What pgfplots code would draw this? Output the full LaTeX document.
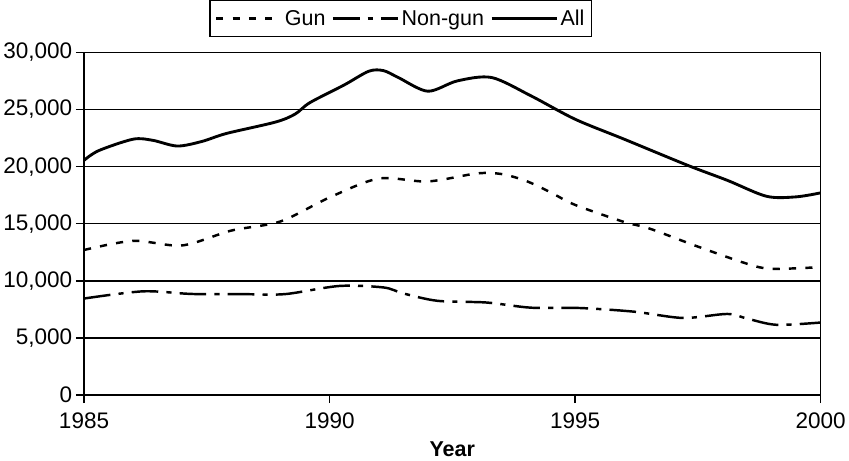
\documentclass[border=0pt]{standalone}
\usepackage{pgfplots}
\pgfplotsset{compat=1.18}
\usepackage{fontspec}
\setmainfont{Liberation Sans}
\begin{document}
\begin{tikzpicture}
\begin{axis}[
  scale only axis, width=720pt, height=335pt,
  xmin=1985, xmax=2000, ymin=0, ymax=30000,
  xtick={1985,1990,1995,2000}, ytick={0,5000,10000,15000,20000,25000,30000},
  scaled y ticks=false,
  /pgf/number format/assume math mode=true,
  xticklabel style={/pgf/number format/1000 sep={}, yshift=-6pt},
  yticklabel style={/pgf/number format/1000 sep={,}},
  ymajorgrids, grid style={black, line width=1.4pt},
  axis line style={line width=1.6pt},
  tick style={black, line width=1.4pt},
  tick align=outside, major tick length=8pt, tick pos=left,
  ticklabel style={font=\fontsize{22}{26}\selectfont},
  xlabel={Year}, xlabel style={font=\fontsize{21}{25}\selectfont\bfseries, yshift=-6pt},
  legend columns=3,
  legend style={at={(0.43,1.045)}, anchor=south, draw=black, line width=1.4pt,
    font=\fontsize{21}{25}\selectfont, inner xsep=5pt, inner ysep=7pt,
    /tikz/every even column/.append style={column sep=4pt}},
  legend image code/.code={\draw[#1] (0pt,0pt) -- (64pt,0pt);},
]
\addplot[black, line width=2.4pt, dash pattern=on 7pt off 9pt, smooth, tension=0.5] coordinates {
(1985,12700) (1986,13500) (1987,13100) (1988,14400) (1989,15200) (1990,17300) (1991,18950) (1992,18700) (1993,19400) (1993.5,19350) (1994,18750) (1994.5,17750) (1995,16650) (1996,15150) (1996.5,14600) (1997.5,13000) (1998.5,11500) (1999,11050) (2000,11200)};
\addlegendentry{Gun}
\addplot[black, line width=2.4pt, dash pattern=on 26pt off 8pt on 5pt off 8pt, smooth, tension=0.5] coordinates {
(1985,8450) (1986.2,9080) (1987.2,8850) (1988.3,8830) (1989.1,8840) (1990.2,9550) (1991.1,9420) (1991.5,8900) (1992.2,8250) (1993.2,8100) (1994.1,7650) (1995.1,7620) (1996.2,7300) (1997.2,6750) (1998.1,7100) (1998.5,6700) (1999.1,6150) (2000,6350)};
\addlegendentry{Non-gun}
\addplot[black, line width=2.8pt, smooth, tension=0.5] coordinates {
(1985,20550) (1985.3,21400) (1986.0,22400) (1986.4,22300) (1986.9,21800) (1987.4,22200) (1987.9,22900) (1988.9,23900) (1989.3,24600) (1989.6,25600) (1990.3,27150) (1990.8,28350) (1991.1,28400) (1991.4,27800) (1992.0,26600) (1992.6,27500) (1993.3,27800) (1994.1,26200) (1995.0,24150) (1996.0,22400) (1997.3,20100) (1998.1,18800) (1998.9,17400) (1999.5,17350) (2000,17700)};
\addlegendentry{All}
\end{axis}
\end{tikzpicture}
\end{document}
